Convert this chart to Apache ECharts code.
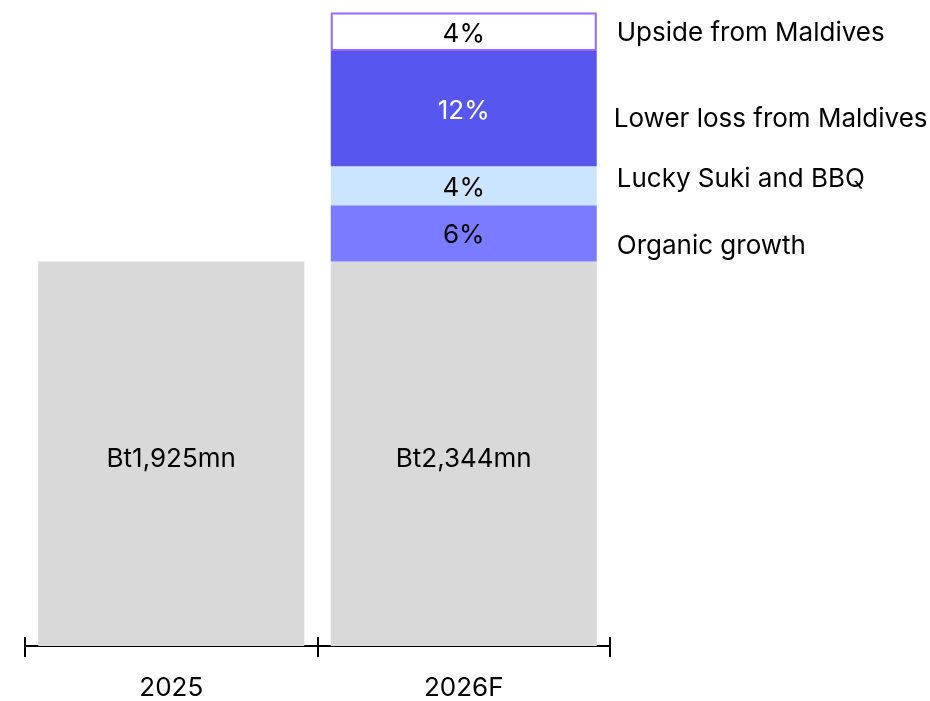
<!DOCTYPE html>
<html>
<head>
<meta charset="utf-8">
<script src="https://cdn.jsdelivr.net/npm/echarts@6/dist/echarts.min.js"></script>
<style>html,body{margin:0;padding:0;background:#fff;}#c{width:930px;height:701px;}</style>
</head>
<body>
<div id="c"></div>
<script>
// Data
var categories = ['2025', '2026F'];
var baseValues = [1925, 1925];
var baseLabels = ['Bt1,925mn', 'Bt2,344mn'];
var segmentNames = ['Organic growth', 'Lucky Suki and BBQ', 'Lower loss from Maldives', 'Upside from Maldives'];
var segmentPct = ['6%', '4%', '12%', '4%'];
var segmentHeights = [282, 195, 577, 193];

// Styles
var segColors = ['#7b7bff', '#cce5ff', '#5757f0', '#ffffff'];
var segLabelColors = ['#000', '#000', '#ffffff', '#000'];
var nameOffsetsY = [13, -7, 10, 1];
var FONT = 'Inter';
var FS = 26;

var series = [];
series.push({
  type: 'bar', stack: 's', barWidth: 266, silent: true,
  data: baseValues,
  itemStyle: { color: '#d9d9d9' },
  label: { show: true, position: 'inside', offset: [0, 5], color: '#000', fontSize: FS, fontFamily: FONT,
    formatter: function (p) { return baseLabels[p.dataIndex]; } }
});
segmentHeights.forEach(function (h, i) {
  var isTop = i === segmentHeights.length - 1;
  series.push({
    type: 'bar', stack: 's', barWidth: 266, silent: true, name: segmentNames[i],
    data: ['-', h],
    itemStyle: isTop ? { color: segColors[i], borderColor: '#9966ff', borderWidth: 2 } : { color: segColors[i] },
    label: { show: true, position: 'inside', offset: [0, 2], color: segLabelColors[i], fontSize: FS, fontFamily: FONT,
      formatter: function () { return segmentPct[i]; } }
  });
});
// name labels to the right of the stacked bar
var mids = [];
var acc = baseValues[1];
segmentHeights.forEach(function (h, i) { mids.push(acc + h / 2); acc += h; });
series.push({
  type: 'scatter', symbolSize: 0, silent: true,
  itemStyle: { opacity: 1 },
  data: mids.map(function (m, i) {
    return { value: ['2026F', m], label: { offset: [0, nameOffsetsY[i]], distance: i === 2 ? 150 : 153 } };
  }),
  label: { show: true, position: 'right', color: '#000', fontSize: FS, fontFamily: FONT,
    formatter: function (p) { return segmentNames[p.dataIndex]; } }
});

var chart = echarts.init(document.getElementById('c'));
chart.setOption({
  animation: false,
  grid: { left: 25, right: 320, top: 0, bottom: 53 },
  xAxis: [{
    type: 'category', data: categories,
    axisLine: { lineStyle: { color: '#000', width: 2 } },
    axisTick: { show: true, length: 11, lineStyle: { color: '#000', width: 2 } },
    axisLabel: { color: '#000', fontSize: FS, fontFamily: FONT, margin: 29 }
  }, {
    type: 'category', data: categories, position: 'bottom',
    axisLine: { show: false },
    axisTick: { show: true, inside: true, length: 9, lineStyle: { color: '#000', width: 2 } },
    axisLabel: { show: false }
  }],
  yAxis: { type: 'value', min: 0, max: 3235, show: false, splitLine: { show: false } },
  series: series
});
</script>
</body>
</html>
